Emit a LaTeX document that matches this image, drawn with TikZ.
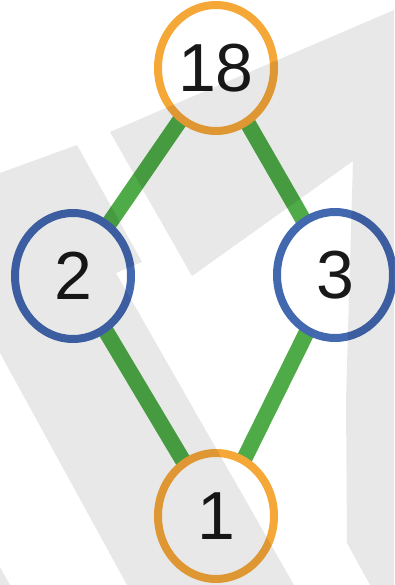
\documentclass[tikz,border=0pt]{standalone}
\usepackage{fontspec}
\setmainfont{Liberation Sans}
\usetikzlibrary{shapes.geometric,backgrounds}
\definecolor{nodeorange}{RGB}{245,167,55}
\definecolor{nodeblue}{RGB}{66,104,176}
\definecolor{edgegreen}{RGB}{78,171,72}
\tikzset{
  numnode/.style={ellipse, draw, line width=8pt, minimum width=116pt, minimum height=126pt,
    inner sep=0pt, outer sep=0pt, font=\fontsize{68}{68}\selectfont, text=black!90},
  orangenode/.style={numnode, draw=nodeorange},
  bluenode/.style={numnode, draw=nodeblue},
  link/.style={draw=edgegreen, line width=16pt},
  watermark/.style={fill=black, fill opacity=0.09, draw=none}
}
\begin{document}
\begin{tikzpicture}[x=1pt,y=-1pt]
\useasboundingbox (0,0) rectangle (394,585);
\node[orangenode] (n18) at (216,68) {18};
\node[bluenode] (n2) at (73,276) {2};
\node[bluenode] (n3) at (335,275) {3};
\node[orangenode] (n1) at (216,516) {1};
\begin{scope}[on background layer]
  \draw[link] (n18) -- (n2);
  \draw[link] (n18) -- (n3);
  \draw[link] (n2) -- (n1);
  \draw[link] (n3) -- (n1);
\end{scope}
% watermark shapes over everything
\fill[watermark] (110,132) -- (394,10) -- (394,585) -- (370,585) -- (347,543) -- (346,400) -- (353,161) -- (192,276) -- cycle;
\fill[watermark] (0,173) -- (77,145) -- (142,262) -- (116,273) -- (294,585) -- (127,585) -- (0,353) -- cycle;
\fill[watermark] (0,567) -- (10,585) -- (0,585) -- cycle;
\end{tikzpicture}
\end{document}
